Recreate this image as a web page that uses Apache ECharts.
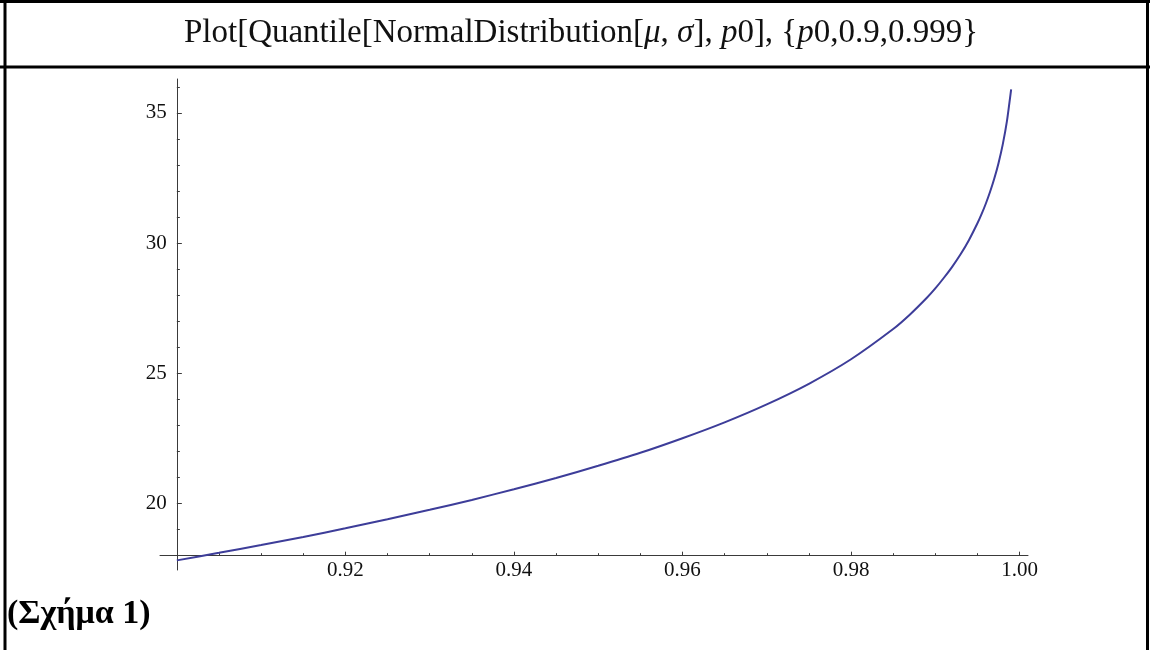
<!DOCTYPE html>
<html>
<head>
<meta charset="utf-8">
<script src="https://cdn.jsdelivr.net/npm/echarts@6/dist/echarts.min.js"></script>
<style>
  html, body { margin: 0; padding: 0; background: #fff; }
  #chart { width: 1150px; height: 650px; }
</style>
</head>
<body>
<div id="chart"></div>
<script>
// values
const pValues = [0.900, 0.905, 0.910, 0.915, 0.920, 0.925, 0.930, 0.935, 0.940, 0.945,
  0.950, 0.955, 0.960, 0.965, 0.970, 0.975, 0.980, 0.985, 0.987, 0.989, 0.990, 0.991,
  0.992, 0.993, 0.994, 0.995, 0.9955, 0.996, 0.9965, 0.997, 0.9975, 0.998, 0.9985, 0.999];
const qValues = [17.82, 18.11, 18.41, 18.72, 19.05, 19.40, 19.76, 20.14, 20.55, 20.98,
  21.45, 21.95, 22.51, 23.12, 23.81, 24.60, 25.54, 26.70, 27.26, 27.90, 28.26, 28.66,
  29.09, 29.57, 30.12, 30.76, 31.12, 31.52, 31.97, 32.48, 33.07, 33.78, 34.68, 35.90];

const xMajorTicks = [0.90, 0.92, 0.94, 0.96, 0.98, 1.00];
const xLabels = [0.92, 0.94, 0.96, 0.98, 1.00];
const xMinorTicks = [0.905, 0.91, 0.915, 0.925, 0.93, 0.935, 0.945, 0.95, 0.955,
  0.965, 0.97, 0.975, 0.985, 0.99, 0.995];
const yMajorTicks = [20, 25, 30, 35];
const yMinorTicks = [18, 19, 21, 22, 23, 24, 26, 27, 28, 29, 31, 32, 33, 34, 36];

// plot range (Mathematica pads a bit) and where the axes cross
const xMin = 0.898, xMax = 1.001, yMin = 17.45, yMax = 36.3;
const xCross = 0.9, yCross = 18;

const gridBox = { left: 160, right: 122, top: 79, bottom: 80 };
const plotW = 1150 - gridBox.left - gridBox.right;
const plotH = 650 - gridBox.top - gridBox.bottom;
// shift the axes inward so they cross at (0.9, 18)
const yAxisShift = -(xCross - xMin) / (xMax - xMin) * plotW;
const xAxisShift = -(yCross - yMin) / (yMax - yMin) * plotH;

const axisColor = "#3a3a3a";
const labelFont = { fontFamily: "Liberation Serif", fontSize: 21, color: "#111" };
const titleFont = { fontFamily: "Liberation Serif", fontSize: 33, fill: "#111" };

const chart = echarts.init(document.getElementById("chart"));

const baseX = {
  type: "value", min: xMin, max: xMax, offset: xAxisShift, position: "bottom",
  splitLine: { show: false },
};
const baseY = {
  type: "value", min: yMin, max: yMax, offset: yAxisShift, position: "left",
  splitLine: { show: false },
};

chart.setOption({
  animation: false,
  // second grid sits exactly on the first one and only carries the minor ticks
  grid: [{ ...gridBox }, { ...gridBox }],
  xAxis: [
    {
      ...baseX, gridIndex: 0,
      axisLine: { lineStyle: { color: axisColor, width: 1 } },
      axisTick: { inside: true, length: 4, customValues: xMajorTicks, lineStyle: { color: axisColor } },
      axisLabel: { ...labelFont, margin: 4, customValues: xLabels, formatter: (v) => v.toFixed(2) },
    },
    {
      ...baseX, gridIndex: 1,
      axisLine: { show: false },
      axisTick: { inside: true, length: 2.5, customValues: xMinorTicks, lineStyle: { color: axisColor } },
      axisLabel: { show: false },
    },
  ],
  yAxis: [
    {
      ...baseY, gridIndex: 0,
      axisLine: { show: true, lineStyle: { color: axisColor, width: 1 } },
      axisTick: { show: true, inside: true, length: 5, customValues: yMajorTicks, lineStyle: { color: axisColor } },
      axisLabel: { ...labelFont, margin: 10, customValues: yMajorTicks, formatter: (v) => String(v) },
    },
    {
      ...baseY, gridIndex: 1,
      axisLine: { show: false },
      axisTick: { show: true, inside: true, length: 3, customValues: yMinorTicks, lineStyle: { color: axisColor } },
      axisLabel: { show: false },
    },
  ],
  series: [{
    type: "line",
    xAxisIndex: 0,
    yAxisIndex: 0,
    data: pValues.map((p, i) => [p, qValues[i]]),
    showSymbol: false,
    smooth: 0.2,
    lineStyle: { color: "#3d3d99", width: 2 },
  }],
  graphic: [
    // table borders
    { type: "line", shape: { x1: 0, y1: 1.5, x2: 1150, y2: 1.5 }, style: { stroke: "#000", lineWidth: 3 } },
    { type: "line", shape: { x1: 5, y1: 0, x2: 5, y2: 650 }, style: { stroke: "#000", lineWidth: 3 } },
    { type: "line", shape: { x1: 1147.5, y1: 0, x2: 1147.5, y2: 650 }, style: { stroke: "#000", lineWidth: 3 } },
    { type: "line", shape: { x1: 0, y1: 67, x2: 1150, y2: 67 }, style: { stroke: "#000", lineWidth: 3 } },
    {
      type: "text", x: 581, y: 33,
      style: {
        ...titleFont,
        text: "{n|Plot[Quantile[NormalDistribution[}{i|μ}{n|, }{i|σ}{n|], }{i|p}{n|0], {}{i|p}{n|0,0.9,0.999}}",
        align: "center", verticalAlign: "middle",
        rich: {
          n: { ...titleFont },
          i: { ...titleFont, fontStyle: "italic" },
        },
      },
    },
    {
      type: "text", x: 7, y: 614,
      style: {
        text: "(Σχήμα 1)", fontFamily: "Liberation Serif", fontSize: 34, fontWeight: "bold",
        fill: "#000", verticalAlign: "middle",
      },
    },
  ],
});
</script>
</body>
</html>
